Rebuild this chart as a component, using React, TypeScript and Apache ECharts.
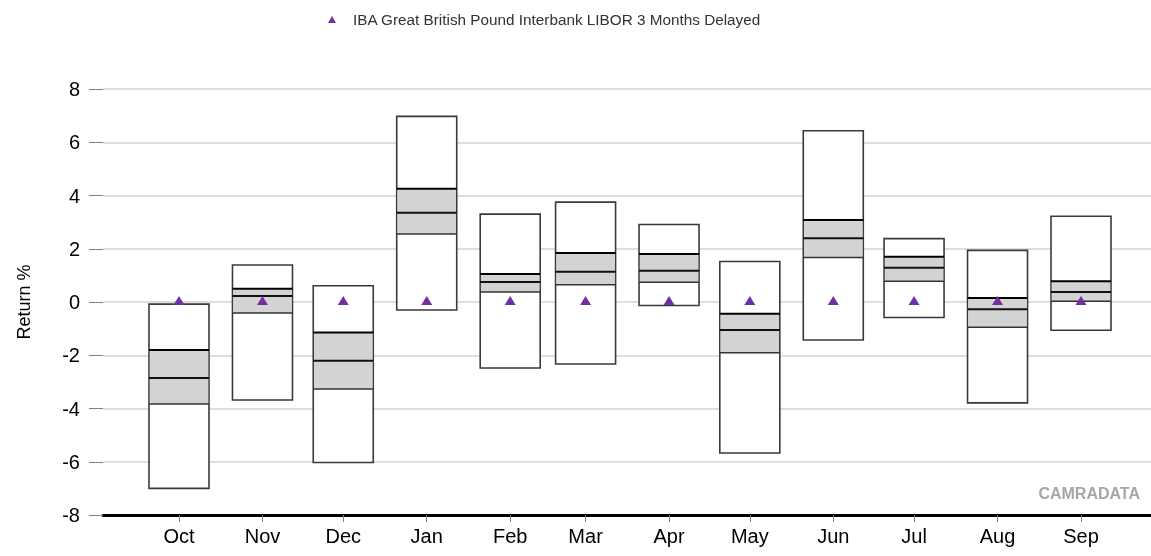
import React, { useEffect, useRef } from "react";
import * as echarts from "echarts";

// Month labels and their positions (days after 1 Oct)
const months = ["Oct", "Nov", "Dec", "Jan", "Feb", "Mar", "Apr", "May", "Jun", "Jul", "Aug", "Sep"];
const dayOffsets = [0, 31, 61, 92, 123, 151, 182, 212, 243, 273, 304, 335];

// Box values per month (return %)
const boxMin = [-7.0, -3.68, -6.03, -0.3, -2.48, -2.33, -0.13, -5.67, -1.43, -0.58, -3.79, -1.06];
const boxLower = [-3.83, -0.41, -3.27, 2.55, 0.38, 0.65, 0.74, -1.91, 1.67, 0.78, -0.95, 0.03];
const boxMedian = [-2.85, 0.23, -2.21, 3.35, 0.75, 1.14, 1.17, -1.05, 2.39, 1.29, -0.27, 0.38];
const boxUpper = [-1.8, 0.5, -1.15, 4.25, 1.05, 1.84, 1.8, -0.44, 3.08, 1.7, 0.15, 0.78];
const boxMax = [-0.08, 1.39, 0.61, 6.97, 3.3, 3.75, 2.91, 1.52, 6.43, 2.38, 1.94, 3.22];

// Benchmark monthly return (%)
const libor = [0.06, 0.06, 0.06, 0.06, 0.06, 0.06, 0.06, 0.06, 0.06, 0.06, 0.06, 0.06];

const yTicks = { min: -8, max: 8, interval: 2 };
const seriesName = "IBA Great British Pound Interbank LIBOR 3 Months Delayed";
const FONT = "'Liberation Sans', Arial, sans-serif";

export default function App() {
  const ref = useRef<HTMLDivElement>(null);
  useEffect(() => {
    if (!ref.current) return;
    const chart = echarts.init(ref.current, undefined, { renderer: "svg" });
    const boxData = dayOffsets.map((d, i) => [d, boxMin[i], boxLower[i], boxMedian[i], boxUpper[i], boxMax[i]]);
    const BW = 60;
    chart.setOption({
      animation: false,
      textStyle: { fontFamily: FONT },
      legend: {
        data: [seriesName],
        left: 323,
        top: 7,
        itemWidth: 8,
        itemHeight: 7,
        textStyle: { fontSize: 15.3, color: "#333", fontFamily: FONT, padding: [0, 0, 0, 12] },
      },
      grid: { left: 103, right: 0, top: 89, bottom: 41, containLabel: false },
      xAxis: {
        type: "value",
        min: -28.23,
        max: 361,
        axisLine: { show: true, onZero: false, lineStyle: { color: "#000", width: 3 } },
        axisTick: { show: true, customValues: dayOffsets, length: 7, lineStyle: { color: "#808080", width: 1 } },
        axisLabel: {
          customValues: dayOffsets,
          formatter: (v: number) => {
            const i = dayOffsets.indexOf(Math.round(v));
            return i >= 0 ? months[i] : "";
          },
          fontSize: 20,
          color: "#000",
          margin: 11,
          fontFamily: FONT,
        },
        splitLine: { show: false },
      },
      yAxis: {
        type: "value",
        min: yTicks.min,
        max: yTicks.max,
        interval: yTicks.interval,
        name: "Return %",
        nameLocation: "middle",
        nameGap: 70,
        nameTextStyle: { fontSize: 18, color: "#000", fontFamily: FONT },
        axisLine: { show: false, onZero: false },
        axisTick: { show: true, length: 14, lineStyle: { color: "#808080", width: 1 } },
        axisLabel: { fontSize: 20, color: "#000", margin: 23, fontFamily: FONT },
        splitLine: { show: true, lineStyle: { color: "#dedede", width: 2 } },
      },
      series: [
        {
          type: "custom",
          name: "boxes",
          data: boxData,
          encode: { x: 0, y: [1, 2, 3, 4, 5] },
          z: 2,
          renderItem: (params: any, api: any) => {
            const x = api.value(0);
            const lo = api.coord([x, api.value(1)]);
            const q1 = api.coord([x, api.value(2)]);
            const med = api.coord([x, api.value(3)]);
            const q3 = api.coord([x, api.value(4)]);
            const hi = api.coord([x, api.value(5)]);
            const left = lo[0] - BW / 2;
            return {
              type: "group",
              children: [
                {
                  type: "rect",
                  shape: { x: left, y: hi[1], width: BW, height: lo[1] - hi[1] },
                  style: { fill: "#fff", stroke: "#3a3a3a", lineWidth: 1.6 },
                },
                {
                  type: "rect",
                  shape: { x: left + 0.8, y: q3[1], width: BW - 1.6, height: q1[1] - q3[1] },
                  style: { fill: "#d3d3d3", stroke: "none" },
                },
                {
                  type: "line",
                  shape: { x1: left, y1: q3[1], x2: left + BW, y2: q3[1] },
                  style: { stroke: "#000", lineWidth: 2 },
                },
                {
                  type: "line",
                  shape: { x1: left, y1: med[1], x2: left + BW, y2: med[1] },
                  style: { stroke: "#111", lineWidth: 2 },
                },
                {
                  type: "line",
                  shape: { x1: left, y1: q1[1], x2: left + BW, y2: q1[1] },
                  style: { stroke: "#333", lineWidth: 1.5 },
                },
              ],
            };
          },
        },
        {
          type: "scatter",
          name: seriesName,
          data: dayOffsets.map((d, i) => [d, libor[i]]),
          symbol: "triangle",
          symbolSize: [11, 9],
          itemStyle: { color: "#7030a0", opacity: 1 },
          z: 5,
        },
      ],
      graphic: [
        {
          type: "text",
          right: 11,
          top: 485,
          style: { text: "CAMRADATA", fill: "#a6a6a6", font: `bold 16px ${FONT}` },
        },
      ],
    });
    return () => chart.dispose();
  }, []);
  return <div ref={ref} style={{ position: "fixed", left: 0, top: 0, width: 1151, height: 556 }} />;
}
